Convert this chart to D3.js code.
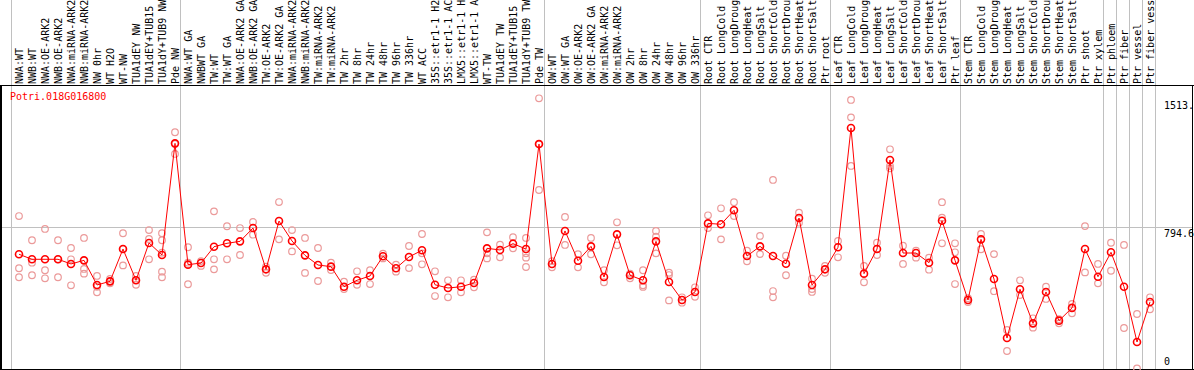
<!DOCTYPE html>
<html>
<head>
<meta charset="utf-8">
<script src="https://cdn.jsdelivr.net/npm/d3@7"></script>
<style>
    body { margin: 0; background: #fff; }
    svg { display: block; }
    text { font-family: "DejaVu Sans Mono", monospace; font-size: 10px; }
</style>
</head>
<body>
<div id="chart"></div>
<script>
// sample labels, one per column
const samples = [
    "NWA:WT", "NWB:WT", "NWA:OE-ARK2", "NWB:OE-ARK2", "NWA:miRNA-ARK2", "NWB:miRNA-ARK2",
    "NW 0hr", "WT H2O", "WT-NW", "TUA1dEY NW", "TUA1dEY+TUB15 NW", "TUA1dY+TUB9 NW", "Pde NW",
    "NWA:WT GA", "NWBWT GA", "TW:WT", "TW:WT GA", "NWA:OE-ARK2 GA", "NWB:OE-ARK2 GA",
    "TW:OE-ARK2", "TW:OE-ARK2 GA", "NWA:miRNA-ARK2", "NWB:miRNA-ARK2", "TW:miRNA-ARK2",
    "TW:miRNA-ARK2 GA", "TW 2hr", "TW 8hr", "TW 24hr", "TW 48hr", "TW 96hr", "TW 336hr",
    "WT ACC", "35S::etr1-1 H2O", "35S::etr1-1 ACC", "LMX5::etr1-1 H2O", "LMX5::etr1-1 ACC",
    "WT-TW", "TUA1dEY TW", "TUA1dEY+TUB15 TW", "TUA1dY+TUB9 TW", "Pde TW",
    "OW:WT", "OW:WT GA", "OW:OE-ARK2", "OW:OE-ARK2 GA", "OW:miRNA-ARK2", "OW:miRNA-ARK2 GA",
    "OW 2hr", "OW 8hr", "OW 24hr", "OW 48hr", "OW 96hr", "OW 336hr",
    "Root CTR", "Root LongCold", "Root LongDrought", "Root LongHeat", "Root LongSalt",
    "Root ShortCold", "Root ShortDrought", "Root ShortHeat", "Root ShortSalt", "Ptr root",
    "Leaf CTR", "Leaf LongCold", "Leaf LongDrought", "Leaf LongHeat", "Leaf LongSalt",
    "Leaf ShortCold", "Leaf ShortDrought", "Leaf ShortHeat", "Leaf ShortSalt", "Ptr leaf",
    "Stem CTR", "Stem LongCold", "Stem LongDrought", "Stem LongHeat", "Stem LongSalt",
    "Stem ShortCold", "Stem ShortDrought", "Stem ShortHeat", "Stem ShortSalt",
    "Ptr shoot", "Ptr xylem", "Ptr phloem", "Ptr fiber", "Ptr vessel", "Ptr fiber vessel"
];

// mean expression per sample
const means = [
    645, 617, 617, 617, 591, 611, 474, 494, 674, 500, 708, 641, 1263,
    587, 596, 687, 706, 717, 791, 561, 830, 719, 639, 585, 576, 464, 500, 524, 634, 567, 630,
    667, 475, 457, 464, 485, 678, 669, 704, 674, 1259,
    591, 775, 609, 689, 518, 756, 528, 500, 717, 490, 390, 435,
    817, 812, 890, 635, 689, 635, 592, 847, 474, 561,
    684, 1349, 537, 674, 1170, 652, 652, 598, 832, 611,
    390, 728, 507, 178, 450, 260, 435, 275, 346, 674, 520,
    656, 464, 156, 379
];

// individual replicates per sample
const replicates = [
    [858, 567, 517], [723, 598, 528], [786, 556, 511], [723, 617, 517], [680, 617, 472],
    [736, 563, 537], [524, 464, 433], [507, 483, 494], [762, 583, 674], [524, 475, 501],
    [780, 730, 617], [762, 723, 654, 548, 517], [1325, 1260, 1204],
    [684, 598, 478], [607, 580], [884, 617, 561], [801, 617], [791, 641], [825, 754],
    [576, 542], [936, 728], [780, 661], [736, 541], [680, 496], [598, 557],
    [492, 451], [550, 475], [556, 479], [648, 622], [587, 548], [691, 568],
    [758, 650, 589], [550, 412], [500, 405], [500, 433], [503, 461],
    [767, 650, 622], [698, 628], [740, 678], [736, 650, 626, 574], [1514, 1260, 1003],
    [607, 572], [853, 697], [646, 572], [736, 645], [556, 489], [823, 695],
    [537, 511], [556, 472, 463], [775, 743, 650], [542, 529, 388], [405, 375], [461, 408],
    [862, 791], [901, 728], [935, 858], [665, 606], [747, 646], [1059, 440, 405],
    [637, 528], [877, 821], [509, 451, 435], [580, 542],
    [719, 628], [1505, 1408, 1137], [580, 489], [709, 641], [1230, 1137, 1124],
    [693, 591], [665, 626], [626, 559], [935, 849, 706], [706, 656, 479],
    [400, 379], [758, 673], [646, 439], [223, 106], [500, 418], [288, 236],
    [464, 396], [283, 260], [368, 316], [802, 544], [591, 483],
    [709, 553], [697, 234], [312, 9], [405, 338]
];

// first sample of each group (last entry closes the final group)
const groupStarts = [0, 13, 41, 53, 63, 73, 84, 85, 86, 87, 88];

// right-hand axis
const tickValues = [1513, 794.6, 0];
const tickLabels = ["1513.", "794.6", "0"];
const gridValues = [794.6];

const geneName = "Potri.018G016800";

const width = 1194, height = 370;
const plotTop = 85, plotBottom = 370;
// header only has room for this many characters
const maxLabelChars = 14;

let svg = d3.select("#chart").append("svg")
    .attr("width", width)
    .attr("height", height);

// one 13px slot per sample
let x = d3.scaleBand()
    .domain(d3.range(samples.length))
    .range([12.5, 12.5 + 13 * samples.length]);
let cx = i => x(i) + x.bandwidth() / 2;

let y = d3.scaleLinear()
    .domain([0, 1513])
    .range([370, 98.5]);

// group separator lines, full height
svg.append("g").selectAll("line")
    .data(groupStarts)
    .join("line")
    .attr("x1", d => Math.floor(x.step() * d + 12.5 - 1.5) + 0.5)
    .attr("x2", d => Math.floor(x.step() * d + 12.5 - 1.5) + 0.5)
    .attr("y1", 0)
    .attr("y2", height)
    .attr("stroke", "#c0c0c0");

// horizontal grid
svg.append("g").selectAll("line")
    .data(gridValues)
    .join("line")
    .attr("x1", 0)
    .attr("x2", 1192)
    .attr("y1", d => Math.round(y(d)) + 0.5)
    .attr("y2", d => Math.round(y(d)) + 0.5)
    .attr("stroke", "#c0c0c0");

// frame
let frame = svg.append("g").attr("stroke", "#000");
frame.append("line").attr("x1", 0).attr("x2", width).attr("y1", plotTop + 0.5).attr("y2", plotTop + 0.5);
frame.append("line").attr("x1", 0).attr("x2", width).attr("y1", 369.5).attr("y2", 369.5);
frame.append("line").attr("x1", 1).attr("x2", 1).attr("y1", plotTop).attr("y2", plotBottom).attr("stroke-width", 2);
frame.append("line").attr("x1", 1192.5).attr("x2", 1192.5).attr("y1", plotTop).attr("y2", plotBottom);

// rotated sample labels, cut to what the header shows
svg.append("g").selectAll("text")
    .data(samples)
    .join("text")
    .attr("transform", (d, i) => `translate(${cx(i) + 3.5},${plotTop - 1}) rotate(-90)`)
    .attr("fill", "#000")
    .text(d => d.slice(0, maxLabelChars).trimEnd());

// right axis labels
svg.append("g").selectAll("text")
    .data(tickValues)
    .join("text")
    .attr("x", 1164)
    .attr("y", d => Math.min(y(d) + 10, plotBottom - 5))
    .attr("fill", "#000")
    .text((d, i) => tickLabels[i]);

// gene name
svg.append("text")
    .attr("x", 10)
    .attr("y", 100)
    .attr("fill", "#ff0000")
    .text(geneName);

// replicate points
let reps = [];
replicates.forEach((r, i) => r.forEach(v => reps.push({i: i, v: v})));

svg.append("g").selectAll("circle")
    .data(reps)
    .join("circle")
    .attr("cx", d => cx(d.i))
    .attr("cy", d => y(d.v))
    .attr("r", 3.3)
    .attr("fill", "none")
    .attr("stroke", "#eb9a9a")
    .attr("stroke-width", 1.2);

// mean line
let line = d3.line()
    .x((d, i) => cx(i))
    .y(d => y(d));

svg.append("path")
    .datum(means)
    .attr("d", line)
    .attr("fill", "none")
    .attr("stroke", "#ff0000")
    .attr("stroke-width", 1);

svg.append("g").selectAll("circle")
    .data(means)
    .join("circle")
    .attr("cx", (d, i) => cx(i))
    .attr("cy", d => y(d))
    .attr("r", 3.5)
    .attr("fill", "none")
    .attr("stroke", "#ff0000")
    .attr("stroke-width", 1.6);
</script>
</body>
</html>
